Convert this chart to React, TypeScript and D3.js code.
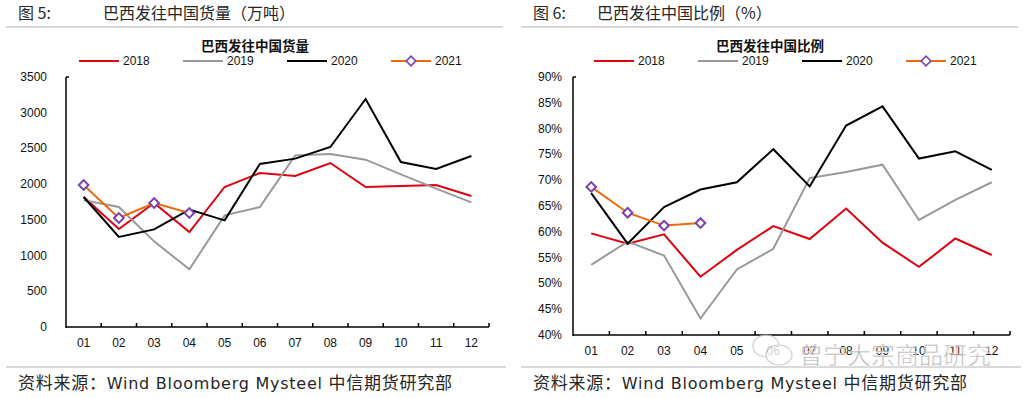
import React from "react";
import * as d3 from "d3";

// months on the x axis
const months = ["01", "02", "03", "04", "05", "06", "07", "08", "09", "10", "11", "12"];

// 巴西发往中国货量 (万吨)
const volume2018 = [1820, 1372, 1736, 1330, 1960, 2156, 2114, 2296, 1960, 1974, 1988, 1834];
const volume2019 = [1773, 1680, 1199, 807, 1563, 1680, 2403, 2422, 2343, 2137, 1937, 1745];
const volume2020 = [1820, 1260, 1367, 1643, 1493, 2282, 2357, 2520, 3192, 2310, 2212, 2394];
const volume2021 = [1988, 1526, 1736, 1596];
const volumeTicks = [0, 500, 1000, 1500, 2000, 2500, 3000, 3500];

// 巴西发往中国比例 (%)
const ratio2018 = [59.7, 57.7, 59.5, 51.3, 56.5, 61.1, 58.6, 64.5, 57.9, 53.2, 58.7, 55.5];
const ratio2019 = [53.6, 58.1, 55.4, 43.2, 52.7, 56.7, 70.4, 71.6, 73.0, 62.3, 66.2, 69.6];
const ratio2020 = [67.5, 57.7, 64.8, 68.2, 69.6, 76.0, 68.8, 80.6, 84.3, 74.2, 75.6, 72.0];
const ratio2021 = [68.7, 63.7, 61.2, 61.7];
const ratioTicks = [40, 45, 50, 55, 60, 65, 70, 75, 80, 85, 90];

const years = ["2018", "2019", "2020", "2021"];
const colors = ["#e0000f", "#999999", "#000000", "#ec6a0c"];
const markerColor = "#7a3fb0";

const CJK = "'Noto Sans CJK SC', sans-serif";
const LATIN = "'Liberation Sans', Arial, sans-serif";
const WIDE = "'DejaVu Sans', sans-serif";

type ChartProps = {
  ox: number;
  fig: string;
  heading: string;
  title: string;
  series: number[][];
  ticks: number[];
  fmt: (v: number) => string;
  xRange: [number, number];
  yRange: [number, number];
  labelGap: number;
  headingX: number;
};

function Chart({ ox, fig, heading, title, series, ticks, fmt, xRange, yRange, labelGap, headingX }: ChartProps) {
  const x = d3.scaleBand<string>().domain(months).range(xRange).padding(0);
  const y = d3.scaleLinear().domain(d3.extent(ticks) as [number, number]).range(yRange);
  const line = d3
    .line<number>()
    .x((_, i) => (x(months[i]) as number) + x.bandwidth() / 2)
    .y(d => y(d));
  const diamond = d3.symbol().type(d3.symbolSquare).size(46)();
  const axisY = y.range()[0];
  const bounds = months.map(m => x(m) as number).slice(1).concat([xRange[1]]);

  return (
    <g>
      {/* figure heading */}
      <text x={ox + 18} y={19} fontFamily={CJK} fontSize={16} fill="#262626">{fig}</text>
      <text x={headingX} y={19} fontFamily={CJK} fontSize={16} fill="#262626">{heading}</text>
      <rect x={ox + 6} y={26} width={497} height={2} fill="#d9d9d9" />

      {/* chart title + legend */}
      <text x={ox + 255} y={51} textAnchor="middle" fontFamily={CJK} fontSize={13.5} fontWeight="bold" fill="#111">{title}</text>
      {years.map((yr, i) => {
        const lx = ox + 79 + i * 104;
        return (
          <g key={yr}>
            <line x1={lx} x2={lx + 40} y1={61} y2={61} stroke={colors[i]} strokeWidth={2} />
            {i === 3 && (
              <path d={diamond} transform={`translate(${lx + 20},61) rotate(45)`} fill="#fff" stroke={markerColor} strokeWidth={1.6} />
            )}
            <text x={lx + 44} y={65} fontFamily={LATIN} fontSize={12} fill="#111">{yr}</text>
          </g>
        );
      })}

      {/* y axis */}
      <line x1={xRange[0]} x2={xRange[0]} y1={axisY + 1} y2={yRange[1]} stroke="#000" strokeWidth={1.5} />
      <line x1={xRange[0]} x2={xRange[0] + 3} y1={yRange[1]} y2={yRange[1]} stroke="#000" strokeWidth={1.5} />
      {ticks.map(t => (
        <text key={t} x={xRange[0] - labelGap} y={y(t) + 4} textAnchor="end" fontFamily={LATIN} fontSize={12} fill="#111">{fmt(t)}</text>
      ))}

      {/* x axis */}
      <line x1={xRange[0]} x2={xRange[1]} y1={axisY} y2={axisY} stroke="#000" strokeWidth={1.5} />
      {bounds.map((b, i) => (
        <line key={i} x1={b} x2={b} y1={axisY} y2={axisY - 4} stroke="#000" strokeWidth={1.5} />
      ))}
      {months.map(m => (
        <text key={m} x={(x(m) as number) + x.bandwidth() / 2} y={axisY + 20} textAnchor="middle" fontFamily={LATIN} fontSize={12} fill="#111">{m}</text>
      ))}

      {/* series */}
      {series.map((s, i) => (
        <path key={i} d={line(s) ?? ""} fill="none" stroke={colors[i]} strokeWidth={2} strokeLinejoin="miter" />
      ))}
      {series[3].map((v, i) => (
        <path
          key={i}
          d={diamond}
          transform={`translate(${(x(months[i]) as number) + x.bandwidth() / 2},${y(v)}) rotate(45)`}
          fill="#fff"
          stroke={markerColor}
          strokeWidth={2}
        />
      ))}

      {/* footer */}
      <rect x={ox + 6} y={366} width={500} height={2} fill="#d9d9d9" />
      <text x={ox + 18} y={389} fontFamily={CJK} fontSize={17} fill="#262626" textLength={434} lengthAdjust="spacing">
        资料来源：
        <tspan fontFamily={WIDE} fontSize={16}>Wind Bloomberg Mysteel </tspan>
        中信期货研究部
      </text>
    </g>
  );
}

export default function App() {
  return (
    <div style={{ position: "fixed", left: 0, top: 0 }}>
      <svg width={1030} height={398} style={{ display: "block", background: "#fff" }}>
        <Chart
          ox={0}
          fig="图 5:"
          heading="巴西发往中国货量（万吨）"
          headingX={103}
          title="巴西发往中国货量"
          series={[volume2018, volume2019, volume2020, volume2021]}
          ticks={volumeTicks}
          fmt={v => String(v)}
          xRange={[66, 489]}
          yRange={[327, 77]}
          labelGap={19}
        />
        <Chart
          ox={515}
          fig="图 6:"
          heading="巴西发往中国比例（%）"
          headingX={597}
          title="巴西发往中国比例"
          series={[ratio2018, ratio2019, ratio2020, ratio2021]}
          ticks={ratioTicks}
          fmt={v => `${v}%`}
          xRange={[573, 1010]}
          yRange={[335, 77]}
          labelGap={11}
        />
        {/* watermark */}
        <g opacity={0.8}>
          <ellipse cx={766} cy={346} rx={13} ry={11} fill="#fff" stroke="#c4c4c4" strokeWidth={1.2} />
          <ellipse cx={779} cy={355} rx={13} ry={10} fill="#fff" stroke="#c4c4c4" strokeWidth={1.2} />
          <text x={799} y={364} fontFamily={CJK} fontSize={24} fill="#a6a6a6" stroke="#fff" strokeWidth={0.6}>曾宁大宗商品研究</text>
        </g>
      </svg>
    </div>
  );
}
